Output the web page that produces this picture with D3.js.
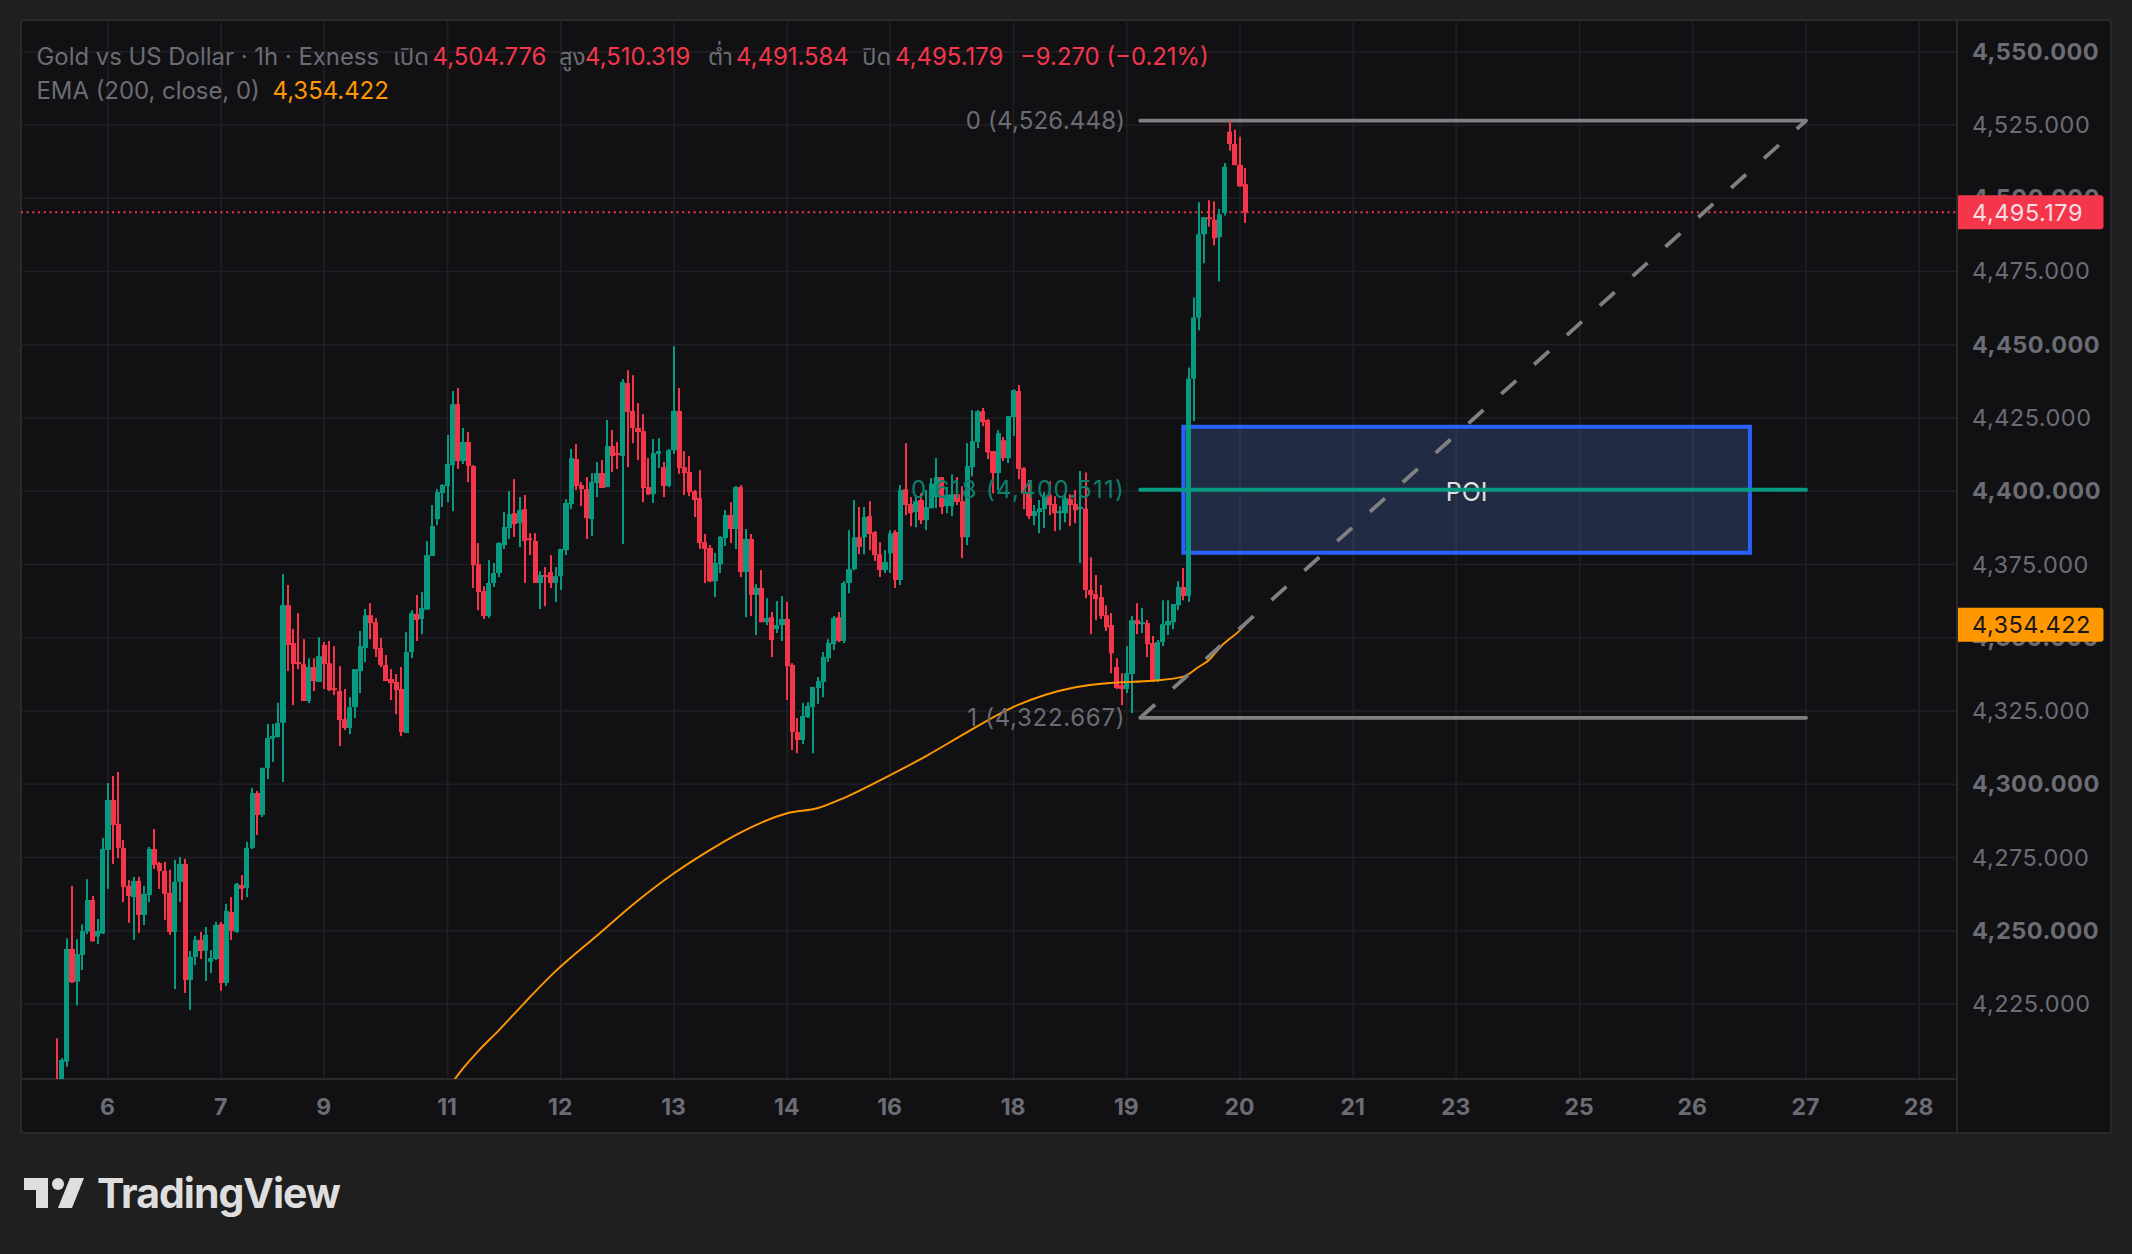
<!DOCTYPE html>
<html>
<head>
<meta charset="utf-8">
<script src="https://cdn.jsdelivr.net/npm/d3@7"></script>
<style>
  html, body { margin: 0; padding: 0; background: #1f1f1f; }
  text { font-family: Inter, "Noto Sans Thai", "Noto Sans", sans-serif; }
</style>
</head>
<body>
<div id="chart"></div>
<script>
// hourly candles
const opens = [
  4195,4190,4205.3,4243.8,4232.6,4241.7,4249.7,4260.5,4248,4249.1,
  4277.6,4294.6,4286.5,4278.3,4265.3,4261.5,4267,4255.4,4262.2,4277.9,
  4273.1,4270.4,4262.9,4249.6,4266.7,4272.8,4233.2,4241.1,4246.9,4243.1,
  4239.4,4240.4,4252.3,4232.2,4256.4,4249.6,4265.6,4264.6,4278.3,4297,
  4289.5,4305.6,4315.5,4316.1,4321,4361.1,4348.2,4341.7,4341,4328.4,
  4340,4334.9,4347.5,4341.3,4332.8,4331.8,4322.2,4319.2,4326.3,4338.6,
  4346.5,4357.7,4355.3,4346.5,4340.7,4335.9,4334.9,4332.5,4317.5,4345.1,
  4358.1,4356.4,4359.6,4377.9,4390.5,4399.4,4401.8,4408.9,4429.7,4410.3,
  4416.8,4408.6,4375.1,4365.9,4357.4,4368.7,4372.1,4381.6,4387.4,4392.5,
  4389.1,4393.9,4384,4383,4368.7,4371.4,4372.4,4368.7,4371,4379.9,
  4395.6,4411,4402.1,4400.7,4390.5,4402.8,4406.2,4401.4,4415.4,4413,
  4412,4436.9,4427.4,4421.6,4420.5,4401.4,4399,4412.7,4408.2,4401.8,
  4414,4427.4,4408.2,4406.5,4400,4397.7,4382.6,4380.6,4369.3,4375.1,
  4384,4391.9,4387.1,4401.4,4372.4,4383.7,4364.6,4367,4355.3,4357,
  4353,4354.3,4356.4,4340.7,4317.8,4315.1,4322.9,4326.3,4332.8,4334.9,
  4343,4347.8,4357,4348.9,4368.7,4373.4,4384.3,4384.3,4391.5,4386,
  4378.5,4373.1,4378.8,4386.1,4369.7,4400.7,4395.6,4392.9,4397,4390.1,
  4394.2,4398,4404.8,4394.9,4394.9,4399,4396.6,4384.3,4408.2,4416.8,
  4427.3,4424.3,4413.7,4406.2,4417.4,4411.3,4425.3,4434.2,4407.9,4399.3,
  4391.5,4392.9,4393.9,4398.7,4395.6,4392.9,4392.5,4397.3,4395.6,4393.9,
  4394.1,4366.3,4364.9,4363.9,4357.7,4354.3,4340,4333.8,4332.5,4337.6,
  4356,4355,4355,4348.2,4335.2,4348.5,4354.3,4355.3,4361.1,4367.3,
  4364.3,4438.4,4459.2,4487.7,4493.5,4492.7,4486.7,4494.9,4522.7,4518.5,
  4511.4,4504.776
];
const highs = [
  4213.3,4206.5,4247.4,4265.3,4247.1,4252.2,4267.6,4261.9,4254,4281.7,
  4300.4,4302.8,4304.2,4281,4267.3,4268.4,4268.4,4265.3,4278.6,4284.7,
  4273.5,4273.5,4270.8,4274.2,4275.2,4274.5,4243.1,4248.2,4249.6,4251.3,
  4243.4,4253,4253,4259.2,4261.5,4266.3,4269,4280.3,4298.7,4297.7,
  4305.6,4320.6,4320.6,4327.8,4371.7,4368,4353,4358.4,4349.5,4343,
  4343,4350.1,4348.5,4348.9,4347.1,4340.3,4332.5,4329.7,4339.3,4352.3,
  4359.8,4361.8,4356.7,4349.9,4344.1,4339.3,4337.6,4340,4351.9,4359.4,
  4364.6,4365.6,4383,4395.3,4400.7,4402.4,4419.2,4434.2,4435.2,4421.6,
  4420.2,4408.9,4382.3,4367.6,4376.5,4375.5,4382.6,4392.9,4400,4404.1,
  4398,4398.7,4385.7,4385.7,4372.7,4374.1,4378.2,4374.1,4380.3,4397.3,
  4414.4,4416.1,4403.1,4404.8,4406.2,4410,4410.6,4424.3,4420.9,4416.8,
  4438.3,4441.3,4439.6,4430.1,4426.3,4411.3,4417.8,4418.1,4410,4414.4,
  4449.5,4435.2,4413.7,4412,4400.4,4407.2,4385.4,4381.6,4378.9,4384.7,
  4393.6,4396.3,4401.8,4402.1,4387.1,4385.4,4368.3,4373.1,4363.5,4358.8,
  4362.5,4364.2,4362.2,4341.3,4322.6,4327.7,4328,4333.2,4336.6,4345.1,
  4349.5,4357.4,4358.8,4369.3,4386.7,4397,4394.6,4394.6,4396.6,4386.4,
  4382.6,4379.9,4386.7,4386.7,4402.1,4416.4,4398,4398,4399.3,4400.4,
  4404.5,4411.3,4404.8,4401.5,4405.8,4404.8,4401.7,4416.4,4427.7,4427.7,
  4428.4,4424.6,4413.7,4420.8,4418.5,4425.6,4434.8,4436.2,4408.2,4403.8,
  4395.3,4397,4399.7,4403.4,4398.3,4394.9,4399.3,4399,4400.4,4406.9,
  4406.4,4377.5,4371.4,4368,4361.1,4358.4,4343,4337.9,4347.1,4357.4,
  4361.8,4360.1,4356,4350.6,4349.2,4362.8,4362.8,4361.5,4369.3,4373.8,
  4442.2,4466.1,4498.6,4493.5,4499.3,4498.9,4496.3,4512,4526.448,4523.4,
  4521,4510.319
];
const lows = [
  4185,4188,4203.6,4232.2,4224.5,4236.6,4248.9,4246.3,4245.5,4248.9,
  4264.3,4272.8,4274.8,4259.8,4252.7,4246.9,4249.3,4252,4259.8,4271.1,
  4264.3,4253.7,4248.6,4230.1,4259.8,4228.8,4223,4238.3,4240.4,4232.9,
  4235.6,4240,4229.5,4231.2,4246.9,4249.3,4260.5,4261.5,4277.9,4282.7,
  4288.8,4301.8,4307.6,4316,4300.8,4338.6,4327,4339.3,4328.4,4327.7,
  4331.8,4334.9,4332.5,4331.8,4330.4,4313,4318.5,4317.1,4322.6,4331.1,
  4341.7,4349.5,4343.4,4340,4335.2,4328.7,4323.9,4316.4,4317.5,4343.1,
  4348.9,4351.2,4359.6,4377.9,4388.4,4394.6,4396.3,4393.2,4407.6,4409.3,
  4403.1,4367,4359.4,4356.4,4356.7,4367.3,4370.7,4380.3,4383.7,4384.4,
  4380.9,4368.7,4378.2,4368.7,4359.8,4360.8,4367,4362.2,4366.3,4378.2,
  4393.9,4400.4,4394.9,4383.7,4384.7,4398,4401.1,4401.4,4406.5,4407.6,
  4382,4408.2,4416.4,4410.6,4396.3,4398.7,4396,4407.9,4398,4401.4,
  4412.7,4405.9,4398.7,4398.3,4391.2,4380.3,4368.7,4369,4363.9,4372.1,
  4381.3,4382.3,4380.3,4370.7,4357,4357.4,4350.9,4355.3,4354.3,4343.4,
  4351.6,4348.9,4328.7,4311.7,4310.6,4313.7,4322.6,4310.6,4327.4,4329.7,
  4341.7,4345.8,4348.5,4348.2,4365.2,4373,4378.5,4378.5,4379.9,4376.2,
  4370.7,4372.1,4372.1,4367,4368,4391.8,4388.1,4387.7,4388.8,4386.7,
  4394.2,4394.2,4392.2,4392.5,4391.5,4395.3,4377.2,4381.6,4405.1,4414.7,
  4422.2,4411,4399.3,4400.4,4410.3,4409.6,4418.8,4404.1,4393.9,4390.5,
  4388.4,4385.7,4387.4,4391.8,4386.4,4386.7,4389.4,4388.1,4389.1,4375.5,
  4363.5,4351.2,4356,4356.4,4352.3,4337.9,4332.5,4327,4331.1,4324.3,
  4351.2,4351.6,4343.4,4334.9,4334.9,4347.1,4350.9,4352.9,4359.4,4362.8,
  4362.2,4424,4454.9,4477.8,4490.3,4483.9,4471.6,4494.1,4516.2,4511.3,
  4504,4491.584
];
const closes = [
  4190,4205.9,4243.8,4232.4,4242.1,4249.9,4260.5,4246.4,4249.9,4277.9,
  4294.6,4286.1,4278.3,4265,4261.9,4267,4255.4,4262.6,4277.9,4272.5,
  4270.4,4262.6,4249.6,4266.7,4272.8,4233.2,4241.1,4246.9,4243.1,4248.6,
  4240.7,4252,4232.2,4256.8,4249.9,4266,4264.3,4278.3,4297,4289.5,
  4305.6,4315.8,4316.5,4320.9,4361.1,4347.5,4341,4341,4328.4,4340,
  4335.2,4343.7,4341,4332.1,4332.1,4321.9,4319.2,4326.3,4339.3,4347.1,
  4357.7,4355,4346.1,4340.7,4335.2,4334.5,4332.1,4317.8,4345.1,4358.4,
  4356,4360.1,4378.2,4388.1,4399.7,4402.1,4409.3,4429.7,4410.3,4416.8,
  4408.6,4374.8,4365.6,4357.4,4368.7,4372.1,4382.3,4387.8,4392.2,4388.8,
  4393.6,4383,4383.3,4368.7,4371.4,4370.7,4368.7,4371,4380.3,4396,
  4411.3,4401.8,4400.7,4390.8,4403.1,4406.2,4401.1,4415.4,4412,4412.3,
  4437.3,4427,4421.6,4420.2,4401.1,4399,4413,4413.7,4401.8,4414,
  4427.4,4407.9,4406.2,4399.7,4397,4382.3,4380.3,4369.2,4375.5,4384.4,
  4391.9,4387.1,4401.4,4372.4,4383.7,4364.6,4367,4355.3,4356.7,4349.2,
  4354.3,4356.4,4340.3,4317.8,4315.1,4323.3,4326.7,4333.2,4335.2,4343.4,
  4348.2,4356.7,4348.9,4368.7,4373.4,4384.3,4381,4391.2,4385.4,4378.2,
  4373.1,4375.8,4385.6,4369.7,4400.4,4395.3,4392.5,4396.6,4390.1,4394.6,
  4402.6,4404.8,4394.6,4398.7,4399,4396.3,4384.3,4408.6,4417.1,4427.3,
  4423.6,4413.3,4406.2,4419.8,4411.3,4425.6,4434.5,4407.6,4399.3,4391.5,
  4393.2,4394.2,4398.3,4395.3,4392.5,4393.2,4397.6,4395.3,4393.5,4394.7,
  4366.3,4364.6,4363.2,4357.4,4353.6,4344.7,4332.8,4332.5,4337.9,4356,
  4354.6,4355.3,4347.8,4335.2,4348.5,4354.6,4355.7,4361.5,4367.3,4364.2,
  4438.4,4459.3,4487.7,4493.5,4493.2,4486.3,4494.5,4510.7,4518.5,4511.3,
  4504,4495.179
];

// EMA 200, read at these bar positions
const emaBars = [76,79,82,86,91,97,105,113,120,126,133,142,148,153,161,169,177,186,198,205,213,219,222,224,226,230,231];
const emaValues = [4196,4203,4209,4216.1,4225.5,4236.2,4248.3,4260.3,4269.6,4276.5,4283.6,4290.1,4291.9,4295.3,4302.2,4309.6,4317.8,4326.4,4333.1,4334.6,4335.3,4336.7,4340.1,4342.4,4346.5,4352.6,4354.422];

// axis ticks
const priceTicks = [4550,4525,4500,4475,4450,4425,4400,4375,4350,4325,4300,4275,4250,4225];
const boldPrices = [4550,4500,4450,4400,4350,4300,4250];
const dayBars = [10,32,52,76,98,120,142,162,186,208,230,252,272,296,318,340,362];
const dayLabels = ["6","7","9","11","12","13","14","16","18","19","20","21","23","25","26","27","28"];

// drawings
const fibLevels = [4526.448, 4400.511, 4322.667];
const fibNames = ["0 (4,526.448)", "0.618 (4,400.511)", "1 (4,322.667)"];
const fibSpacing = [0.2, 1.3, 0.7];
const fibBars = [210.6, 340];
const poiPrices = [4422, 4379];
const poiBars = [219, 329.1];
const lastClose = 4495.179;
const lastEma = 4354.422;

const width = 2132, height = 1254;
const plotLeft = 21, plotRight = 1957, plotTop = 20, plotBottom = 1079, panelRight = 2111, panelBottom = 1133;

const green = "#089a80", red = "#f5364a", orange = "#ff9800", grey = "#808083";
const gridColor = "#1f1f25", textColor = "#6b6c74", borderColor = "#2a2a2d";

const x = d3.scaleLinear().domain([10, 230]).range([108, 1240]);
const y = d3.scaleLinear().domain([4225, 4550]).range([1004, 51.7]);

const svg = d3.select("#chart").append("svg")
  .attr("width", width)
  .attr("height", height)
  .style("display", "block");

svg.append("rect").attr("width", width).attr("height", height).attr("fill", "#1f1f1f");
svg.append("rect")
  .attr("x", plotLeft).attr("y", plotTop)
  .attr("width", panelRight - plotLeft).attr("height", panelBottom - plotTop)
  .attr("rx", 3)
  .attr("fill", "#111114")
  .attr("stroke", borderColor)
  .attr("stroke-width", 2);

svg.append("clipPath").attr("id", "plot").append("rect")
  .attr("x", plotLeft).attr("y", plotTop)
  .attr("width", plotRight - plotLeft).attr("height", plotBottom - plotTop);

// grid
const grid = svg.append("g").attr("stroke", gridColor).attr("stroke-width", 1.6);
grid.selectAll(".h").data(priceTicks).enter().append("line")
  .attr("x1", plotLeft).attr("x2", plotRight)
  .attr("y1", d => y(d)).attr("y2", d => y(d));
grid.selectAll(".v").data(dayBars).enter().append("line")
  .attr("x1", d => x(d)).attr("x2", d => x(d))
  .attr("y1", plotTop).attr("y2", plotBottom);

// axes
const yAxis = svg.append("g")
  .attr("transform", "translate(" + plotRight + ",0)")
  .call(d3.axisRight(y).tickValues(priceTicks).tickSize(0).tickPadding(15).tickFormat(d3.format(",.3f")));
const xAxis = svg.append("g")
  .attr("transform", "translate(-1," + plotBottom + ")")
  .call(d3.axisBottom(x).tickValues(dayBars).tickSize(0).tickPadding(20).tickFormat((d, i) => dayLabels[i]));
yAxis.select(".domain").remove();
xAxis.select(".domain").remove();
yAxis.selectAll("text")
  .attr("fill", textColor)
  .style("font-family", "Inter")
  .style("font-size", "23.5px")
  .style("letter-spacing", "0.5px")
  .style("font-weight", d => boldPrices.includes(d) ? 700 : 400);
xAxis.selectAll("text")
  .attr("fill", textColor)
  .style("font-family", "Inter")
  .style("font-size", "23px")
  .style("font-weight", 700);

svg.append("line").attr("x1", plotRight).attr("x2", plotRight).attr("y1", plotTop).attr("y2", panelBottom)
  .attr("stroke", borderColor).attr("stroke-width", 2);
svg.append("line").attr("x1", plotLeft).attr("x2", plotRight).attr("y1", plotBottom).attr("y2", plotBottom)
  .attr("stroke", borderColor).attr("stroke-width", 2);

const plot = svg.append("g").attr("clip-path", "url(#plot)");

// POI box
plot.append("rect")
  .attr("x", x(poiBars[0])).attr("y", y(poiPrices[0]))
  .attr("width", x(poiBars[1]) - x(poiBars[0]))
  .attr("height", y(poiPrices[1]) - y(poiPrices[0]))
  .attr("fill", "rgba(102,150,255,0.2)")
  .attr("stroke", "#2962ff")
  .attr("stroke-width", 4);
plot.append("text")
  .attr("x", (x(poiBars[0]) + x(poiBars[1])) / 2)
  .attr("y", 492)
  .attr("dy", "0.36em")
  .attr("text-anchor", "middle")
  .attr("fill", "#e0e0e0")
  .attr("font-size", 25)
  .text("POI");

// last price line
plot.append("line")
  .attr("x1", plotLeft).attr("x2", plotRight)
  .attr("y1", y(lastClose)).attr("y2", y(lastClose))
  .attr("stroke", red).attr("stroke-width", 2)
  .attr("stroke-dasharray", "2 3.7");

// fib lines
const fibColors = [grey, green, grey];
plot.selectAll(".fib").data(fibLevels).enter().append("line")
  .attr("x1", x(fibBars[0])).attr("x2", x(fibBars[1]))
  .attr("y1", d => y(d)).attr("y2", d => y(d))
  .attr("stroke", (d, i) => fibColors[i])
  .attr("stroke-width", 3.8)
  .attr("stroke-linecap", "round");

// candles
const bars = d3.range(opens.length);
const candles = plot.append("g").selectAll("g").data(bars).enter().append("g")
  .attr("fill", i => closes[i] >= opens[i] ? green : red);
candles.append("rect")
  .attr("x", i => Math.round(x(i)) - 1)
  .attr("width", 2)
  .attr("y", i => y(highs[i]))
  .attr("height", i => y(lows[i]) - y(highs[i]));
candles.append("rect")
  .attr("x", i => Math.round(x(i) - 2.57))
  .attr("width", i => Math.round(x(i) + 2.57) - Math.round(x(i) - 2.57))
  .attr("y", i => y(Math.max(opens[i], closes[i])))
  .attr("height", i => Math.max(2, Math.abs(y(opens[i]) - y(closes[i]))));

// EMA
const emaLine = d3.line()
  .x(d => x(d[0]))
  .y(d => y(d[1]))
  .curve(d3.curveMonotoneX);
plot.append("path")
  .attr("d", emaLine(d3.zip(emaBars, emaValues)))
  .attr("fill", "none")
  .attr("stroke", orange)
  .attr("stroke-width", 1.9);

// dashed diagonal of the fib
plot.append("line")
  .attr("x1", x(fibBars[0])).attr("y1", y(fibLevels[2]))
  .attr("x2", x(fibBars[1])).attr("y2", y(fibLevels[0]))
  .attr("stroke", grey)
  .attr("stroke-width", 3.8)
  .attr("stroke-dasharray", "20 24.1");

// fib labels
const fibText = [textColor, "#0d7f6c", textColor];
svg.selectAll(".fibname").data(fibLevels).enter().append("text")
  .attr("x", x(fibBars[0]) - 15)
  .attr("y", d => y(d))
  .attr("dy", "0.36em")
  .attr("text-anchor", "end")
  .attr("fill", (d, i) => fibText[i])
  .attr("font-size", 24)
  .attr("letter-spacing", (d, i) => fibSpacing[i])
  .text((d, i) => fibNames[i]);

// legend
const legendRow1 = [
  ["Gold vs US Dollar · 1h · Exness", 36.5, textColor],
  ["เปิด", 393, textColor], ["4,504.776", 432.5, red],
  ["สูง", 559, textColor], ["4,510.319", 585, red],
  ["ต่ำ", 708, textColor], ["4,491.584", 736, red],
  ["ปิด", 862, textColor], ["4,495.179", 895, red],
  ["−9.270 (−0.21%)", 1020, red]
];
const legendRow2 = [
  ["EMA (200, close, 0)", 36.5, textColor],
  ["4,354.422", 272.5, orange]
];
[[legendRow1, 56], [legendRow2, 90]].forEach(function(row) {
  svg.selectAll(null).data(row[0]).enter().append("text")
    .attr("x", d => d[1])
    .attr("y", row[1])
    .attr("dy", "0.36em")
    .attr("fill", d => d[2])
    .attr("font-size", 23.9)
    .text(d => d[0]);
});

// price tags
function priceTag(value, fill, color) {
  const cy = y(value);
  svg.append("path")
    .attr("d", "M" + (plotRight + 1) + "," + (cy - 17) + "H2100.5a3,3 0 0 1 3,3V" + (cy + 14) + "a3,3 0 0 1 -3,3H" + (plotRight + 1) + "Z")
    .attr("fill", fill);
  svg.append("text")
    .attr("x", 1972)
    .attr("y", cy)
    .attr("dy", "0.36em")
    .attr("fill", color)
    .attr("font-size", 23.5)
    .attr("letter-spacing", 0.5)
    .text(d3.format(",.3f")(value));
}
priceTag(lastClose, red, "#f3dfe1");
priceTag(lastEma, orange, "#16161a");

// logo
const logo = svg.append("g").attr("fill", "#dedede");
logo.append("path").attr("d", "M24,1178H48V1208H36V1190H24Z");
logo.append("circle").attr("cx", 58).attr("cy", 1184).attr("r", 6);
logo.append("path").attr("d", "M70,1178H84L72,1208H58Z");
svg.append("text")
  .attr("x", 97)
  .attr("y", 1208)
  .attr("fill", "#dedede")
  .attr("font-size", 41)
  .attr("font-weight", 700)
  .attr("letter-spacing", -1)
  .text("TradingView");
</script>
</body>
</html>
